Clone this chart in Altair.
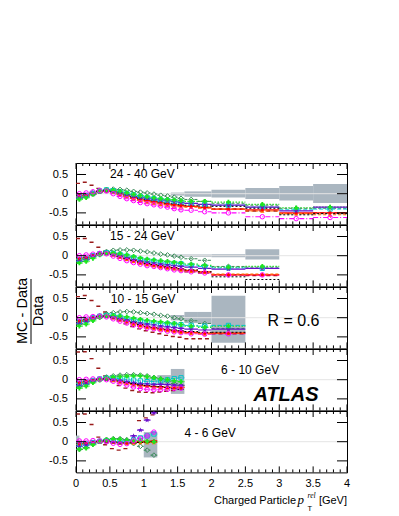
import altair as alt
import pandas as pd

# ---------------- data ----------------
BIN_LO = [0.0, 0.1, 0.2, 0.3, 0.4, 0.5, 0.6, 0.7, 0.8, 0.9,
          1.0, 1.1, 1.2, 1.3, 1.4, 1.5, 1.6, 1.8, 2.0, 2.5, 3.0, 3.5]
BIN_HI = [0.1, 0.2, 0.3, 0.4, 0.5, 0.6, 0.7, 0.8, 0.9, 1.0,
          1.1, 1.2, 1.3, 1.4, 1.5, 1.6, 1.8, 2.0, 2.5, 3.0, 3.5, 4.0]

PANEL_LABELS = ["24 - 40 GeV", "15 - 24 GeV", "10 - 15 GeV", "6 - 10 GeV", "4 - 6 GeV"]
SERIES = ["brown", "green", "darkgreen", "cyan", "purple", "magenta", "red", "orange", "black"]

# panel 1 : 24 - 40 GeV
P1_BROWN = [0.27, 0.30, 0.22, 0.14, 0.10, 0.05, -0.02, -0.08, -0.12, -0.16, -0.18, -0.21, -0.24, -0.26, -0.29, -0.31, -0.33, -0.36, -0.40, -0.45, -0.52, -0.50]
P1_GREEN = [-0.15, -0.10, -0.02, 0.06, 0.10, 0.09, 0.06, 0.02, -0.02, -0.05, -0.08, -0.11, -0.13, -0.15, -0.16, -0.18, -0.20, -0.20, -0.22, -0.28, -0.37, -0.35]
P1_DARKGREEN = [-0.12, -0.06, 0.02, 0.08, 0.11, 0.12, 0.11, 0.09, 0.06, 0.04, 0.02, -0.01, -0.04, -0.06, -0.09, -0.12, -0.15, -0.20, -0.25, -0.30, -0.38, -0.38]
P1_CYAN = [-0.08, -0.05, 0.01, 0.07, 0.10, 0.08, 0.04, 0.00, -0.03, -0.07, -0.10, -0.13, -0.16, -0.18, -0.20, -0.22, -0.25, -0.28, -0.30, -0.35, -0.42, -0.40]
P1_PURPLE = [-0.10, -0.08, -0.02, 0.05, 0.08, 0.06, 0.02, -0.03, -0.07, -0.10, -0.12, -0.15, -0.17, -0.19, -0.21, -0.23, -0.25, -0.28, -0.30, -0.35, -0.45, -0.35]
P1_MAGENTA = [0.00, 0.02, 0.05, 0.08, 0.07, 0.00, -0.07, -0.13, -0.18, -0.23, -0.26, -0.29, -0.32, -0.35, -0.39, -0.42, -0.43, -0.47, -0.50, -0.60, -0.65, -0.62]
P1_RED = [-0.05, -0.04, 0.00, 0.05, 0.07, 0.05, 0.00, -0.05, -0.10, -0.14, -0.18, -0.21, -0.24, -0.27, -0.29, -0.31, -0.33, -0.36, -0.40, -0.42, -0.50, -0.50]
P1_ORANGE = [-0.06, -0.05, 0.00, 0.06, 0.08, 0.05, -0.01, -0.07, -0.12, -0.17, -0.21, -0.24, -0.27, -0.29, -0.32, -0.34, -0.35, -0.37, -0.40, -0.45, -0.52, -0.55]
P1_BLACK = [-0.05, -0.03, 0.02, 0.06, 0.08, 0.06, 0.02, -0.03, -0.08, -0.12, -0.15, -0.18, -0.21, -0.24, -0.26, -0.28, -0.30, -0.32, -0.33, -0.38, -0.55, -0.52]
P1_BAND_LO = [1.4, 1.6, 2.0, 2.5, 3.0, 3.5]
P1_BAND_HI = [1.6, 2.0, 2.5, 3.0, 3.5, 4.0]
P1_BAND_DN = [-0.05, -0.08, -0.10, -0.14, -0.18, -0.24]
P1_BAND_UP = [0.03, 0.06, 0.10, 0.15, 0.20, 0.25]

# panel 2 : 15 - 24 GeV
P2_BROWN = [0.45, 0.45, 0.35, 0.22, 0.12, 0.05, -0.02, -0.08, -0.13, -0.18, -0.22, -0.25, -0.28, -0.31, -0.34, -0.37, -0.42, -0.45, -0.50, -0.52]
P2_GREEN = [-0.19, -0.15, -0.07, 0.02, 0.07, 0.07, 0.05, 0.02, -0.02, -0.06, -0.09, -0.11, -0.13, -0.15, -0.17, -0.19, -0.22, -0.25, -0.30, -0.28]
P2_DARKGREEN = [-0.15, -0.10, -0.02, 0.06, 0.11, 0.14, 0.15, 0.15, 0.14, 0.12, 0.10, 0.07, 0.04, 0.02, -0.01, -0.04, -0.08, -0.12, -0.28, -0.30]
P2_CYAN = [-0.10, -0.07, 0.00, 0.05, 0.08, 0.06, 0.03, -0.01, -0.05, -0.09, -0.12, -0.14, -0.17, -0.19, -0.20, -0.21, -0.25, -0.28, -0.32, -0.33]
P2_PURPLE = [-0.14, -0.10, -0.03, 0.04, 0.07, 0.04, 0.00, -0.05, -0.10, -0.14, -0.17, -0.19, -0.22, -0.24, -0.26, -0.28, -0.30, -0.33, -0.35, -0.33]
P2_MAGENTA = [0.00, 0.02, 0.04, 0.06, 0.05, -0.01, -0.07, -0.13, -0.18, -0.22, -0.26, -0.28, -0.31, -0.34, -0.37, -0.39, -0.42, -0.45, -0.50, -0.50]
P2_RED = [-0.07, -0.05, 0.00, 0.05, 0.07, 0.04, -0.01, -0.07, -0.12, -0.17, -0.21, -0.24, -0.27, -0.30, -0.32, -0.35, -0.38, -0.42, -0.50, -0.50]
P2_ORANGE = [-0.08, -0.06, 0.00, 0.05, 0.06, 0.03, -0.03, -0.09, -0.14, -0.19, -0.23, -0.26, -0.29, -0.32, -0.34, -0.37, -0.40, -0.43, -0.48, -0.48]
P2_BLACK = [-0.06, -0.04, 0.01, 0.05, 0.06, 0.03, -0.02, -0.07, -0.12, -0.16, -0.20, -0.23, -0.26, -0.29, -0.31, -0.34, -0.37, -0.42, -0.55, -0.62]
P2_BAND_LO = [1.4, 2.0, 2.5]
P2_BAND_HI = [2.0, 2.5, 3.0]
P2_BAND_DN = [-0.03, -0.04, -0.10]
P2_BAND_UP = [0.03, 0.04, 0.17]

# panel 3 : 10 - 15 GeV
P3_BROWN = [0.55, 0.58, 0.45, 0.30, 0.15, 0.03, -0.08, -0.16, -0.23, -0.29, -0.34, -0.38, -0.42, -0.46, -0.49, -0.51, -0.55, -0.55, -0.42]
P3_GREEN = [-0.22, -0.17, -0.08, 0.00, 0.05, 0.06, 0.04, 0.02, -0.01, -0.04, -0.07, -0.09, -0.11, -0.13, -0.15, -0.18, -0.22, -0.25, -0.22]
P3_DARKGREEN = [-0.17, -0.10, -0.02, 0.05, 0.10, 0.13, 0.15, 0.16, 0.15, 0.13, 0.11, 0.09, 0.06, 0.04, 0.00, -0.03, -0.08, -0.15, -0.28]
P3_CYAN = [-0.10, -0.07, 0.00, 0.04, 0.06, 0.05, 0.02, -0.02, -0.05, -0.08, -0.11, -0.13, -0.15, -0.16, -0.17, -0.18, -0.20, -0.22, -0.20]
P3_PURPLE = [-0.15, -0.10, -0.04, 0.02, 0.04, 0.02, -0.02, -0.06, -0.10, -0.14, -0.17, -0.19, -0.22, -0.24, -0.26, -0.28, -0.30, -0.32, -0.30]
P3_MAGENTA = [0.00, 0.02, 0.03, 0.04, 0.02, -0.03, -0.09, -0.14, -0.19, -0.23, -0.27, -0.29, -0.32, -0.35, -0.37, -0.39, -0.42, -0.43, -0.42]
P3_RED = [-0.08, -0.05, -0.01, 0.03, 0.04, 0.01, -0.04, -0.09, -0.14, -0.19, -0.23, -0.26, -0.29, -0.31, -0.34, -0.36, -0.38, -0.40, -0.40]
P3_ORANGE = [-0.09, -0.06, -0.01, 0.03, 0.04, 0.00, -0.05, -0.10, -0.16, -0.21, -0.25, -0.28, -0.31, -0.33, -0.36, -0.38, -0.40, -0.42, -0.40]
P3_BLACK = [-0.07, -0.05, 0.00, 0.03, 0.04, 0.01, -0.03, -0.08, -0.13, -0.18, -0.22, -0.25, -0.27, -0.30, -0.32, -0.34, -0.36, -0.38, -0.38]
P3_BAND_LO = [1.4, 1.6, 1.8, 2.0]
P3_BAND_HI = [1.6, 1.8, 2.0, 2.5]
P3_BAND_DN = [-0.07, -0.14, -0.16, -0.65]
P3_BAND_UP = [0.07, 0.15, 0.15, 0.57]

# panel 4 : 6 - 10 GeV
P4_BROWN = [0.72, 0.73, 0.55, 0.30, 0.10, -0.05, -0.15, -0.22, -0.28, -0.32, -0.33, -0.34, -0.32, -0.30, -0.28, -0.25]
P4_GREEN = [-0.22, -0.17, -0.08, -0.01, 0.04, 0.07, 0.08, 0.09, 0.10, 0.10, 0.08, 0.05, 0.02, 0.00, -0.03, -0.05]
P4_DARKGREEN = [-0.18, -0.12, -0.04, 0.02, 0.07, 0.10, 0.12, 0.13, 0.13, 0.12, 0.10, 0.06, 0.02, -0.04, -0.10, -0.15]
P4_CYAN = [-0.10, -0.07, -0.02, 0.02, 0.04, 0.04, 0.03, 0.01, -0.01, -0.03, -0.05, -0.05, -0.03, 0.00, 0.03, 0.05]
P4_PURPLE = [-0.15, -0.10, -0.05, 0.00, 0.02, 0.01, -0.02, -0.05, -0.08, -0.10, -0.11, -0.12, -0.12, -0.13, -0.14, -0.15]
P4_MAGENTA = [0.00, 0.01, 0.02, 0.02, 0.00, -0.04, -0.09, -0.14, -0.19, -0.23, -0.25, -0.26, -0.26, -0.25, -0.23, -0.22]
P4_RED = [-0.07, -0.05, -0.02, 0.01, 0.02, 0.00, -0.04, -0.08, -0.12, -0.15, -0.16, -0.18, -0.19, -0.20, -0.20, -0.20]
P4_ORANGE = [-0.08, -0.06, -0.02, 0.01, 0.02, -0.01, -0.05, -0.09, -0.13, -0.16, -0.17, -0.19, -0.20, -0.20, -0.21, -0.20]
P4_BLACK = [-0.06, -0.04, -0.01, 0.01, 0.02, 0.00, -0.03, -0.07, -0.10, -0.13, -0.15, -0.17, -0.18, -0.20, -0.23, -0.25]
P4_BAND_LO = [1.0, 1.2, 1.4]
P4_BAND_HI = [1.2, 1.4, 1.6]
P4_BAND_DN = [-0.06, -0.14, -0.37]
P4_BAND_UP = [0.06, 0.12, 0.28]

# panel 5 : 4 - 6 GeV
P5_BROWN = [0.72, 0.72, 0.45, 0.12, -0.08, -0.18, -0.22, -0.18, 0.02, 0.55, 0.62, 0.70]
P5_GREEN = [-0.20, -0.17, -0.08, 0.00, 0.05, 0.07, 0.06, 0.04, 0.03, 0.02, 0.01, 0.00]
P5_DARKGREEN = [-0.20, -0.15, -0.06, 0.02, 0.06, 0.08, 0.08, 0.05, -0.05, -0.12, -0.22, -0.35]
P5_CYAN = [-0.08, -0.06, -0.02, 0.01, 0.02, 0.01, -0.01, 0.00, 0.05, 0.10, 0.15, 0.20]
P5_PURPLE = [-0.12, -0.09, -0.04, 0.00, 0.02, 0.00, -0.02, 0.05, 0.15, 0.30, 0.56, 0.75]
P5_MAGENTA = [0.02, 0.02, 0.03, 0.02, 0.00, -0.04, -0.07, -0.05, 0.02, 0.08, 0.15, 0.25]
P5_RED = [-0.05, -0.04, -0.02, 0.00, 0.01, -0.01, -0.03, -0.03, -0.02, 0.00, 0.01, 0.02]
P5_ORANGE = [-0.06, -0.04, -0.02, 0.00, 0.01, -0.01, -0.03, -0.04, -0.03, -0.02, -0.02, -0.02]
P5_BLACK = [-0.04, -0.03, -0.01, 0.01, 0.02, 0.00, -0.02, -0.03, -0.03, -0.02, -0.01, 0.00]
P5_BAND_LO = [0.0, 1.0]
P5_BAND_HI = [0.05, 1.2]
P5_BAND_DN = [-0.03, -0.41]
P5_BAND_UP = [0.16, 0.25]

Y_TICKS = [-0.5, 0.0, 0.5]
Y_TICK_LABELS = ["-0.5", "0", "0.5"]
X_TICKS = [0, 0.5, 1, 1.5, 2, 2.5, 3, 3.5, 4]
X_TICK_LABELS = ["0", "0.5", "1", "1.5", "2", "2.5", "3", "3.5", "4"]
X_MINOR = [0.1, 0.2, 0.3, 0.4, 0.6, 0.7, 0.8, 0.9, 1.1, 1.2, 1.3, 1.4, 1.6, 1.7, 1.8, 1.9,
           2.1, 2.2, 2.3, 2.4, 2.6, 2.7, 2.8, 2.9, 3.1, 3.2, 3.3, 3.4, 3.6, 3.7, 3.8, 3.9]

PANEL_SERIES = [
    dict(zip(SERIES, [P1_BROWN, P1_GREEN, P1_DARKGREEN, P1_CYAN, P1_PURPLE, P1_MAGENTA, P1_RED, P1_ORANGE, P1_BLACK])),
    dict(zip(SERIES, [P2_BROWN, P2_GREEN, P2_DARKGREEN, P2_CYAN, P2_PURPLE, P2_MAGENTA, P2_RED, P2_ORANGE, P2_BLACK])),
    dict(zip(SERIES, [P3_BROWN, P3_GREEN, P3_DARKGREEN, P3_CYAN, P3_PURPLE, P3_MAGENTA, P3_RED, P3_ORANGE, P3_BLACK])),
    dict(zip(SERIES, [P4_BROWN, P4_GREEN, P4_DARKGREEN, P4_CYAN, P4_PURPLE, P4_MAGENTA, P4_RED, P4_ORANGE, P4_BLACK])),
    dict(zip(SERIES, [P5_BROWN, P5_GREEN, P5_DARKGREEN, P5_CYAN, P5_PURPLE, P5_MAGENTA, P5_RED, P5_ORANGE, P5_BLACK])),
]
PANEL_BANDS = [
    (P1_BAND_LO, P1_BAND_HI, P1_BAND_DN, P1_BAND_UP),
    (P2_BAND_LO, P2_BAND_HI, P2_BAND_DN, P2_BAND_UP),
    (P3_BAND_LO, P3_BAND_HI, P3_BAND_DN, P3_BAND_UP),
    (P4_BAND_LO, P4_BAND_HI, P4_BAND_DN, P4_BAND_UP),
    (P5_BAND_LO, P5_BAND_HI, P5_BAND_DN, P5_BAND_UP),
]

# ---------------- style ----------------
FONT = "Liberation Sans"
W = 271
H = 61.4
BAND_COLOR = "#AAB6C0"
STAR = "M0,-1L0.24,-0.33L0.95,-0.31L0.38,0.12L0.59,0.81L0,0.4L-0.59,0.81L-0.38,0.12L-0.95,-0.31L-0.24,-0.33Z"

LINE_STYLE = {
    "brown": ("#9A1B1B", [4, 3], 1.4),
    "green": ("#1EE61E", [1.5, 1.5], 1.2),
    "darkgreen": ("#3C8C5A", [3, 2], 1.0),
    "cyan": ("#00C4CC", [4, 2], 1.0),
    "purple": ("#6A0DCC", None, 1.2),
    "magenta": ("#FF00FF", [5, 2, 1, 2], 1.1),
    "red": ("#FF0000", None, 1.3),
    "orange": ("#FF6A00", [3, 2], 1.1),
    "black": ("#000000", [2, 2], 1.0),
}
MARK_ORDER = ["darkgreen", "cyan", "orange", "red", "purple", "green", "magenta"]
MARK_STYLE = {
    "green": ("cross", True, 22),
    "darkgreen": ("diamond", False, 22),
    "cyan": ("square", False, 18),
    "purple": (STAR, True, 30),
    "magenta": ("circle", False, 20),
    "red": ("circle", True, 10),
    "orange": ("triangle-up", True, 18),
}

XS = alt.Scale(domain=[0, 4], nice=False, zero=False)
YS = alt.Scale(domain=[-0.8, 0.8], nice=False, zero=False)
DUMMY = pd.DataFrame({"zero": [0.0]})

# annotation text: (text, x in data units, y in data units, size, weight, style)
ANNOT = [
    [(PANEL_LABELS[0], 0.98, 0.52, 12, "normal", "normal")],
    [(PANEL_LABELS[1], 0.98, 0.52, 12, "normal", "normal")],
    [(PANEL_LABELS[2], 0.99, 0.50, 12, "normal", "normal"),
     ("R = 0.6", 3.21, -0.08, 16, "normal", "normal")],
    [(PANEL_LABELS[3], 2.57, 0.26, 12, "normal", "normal"),
     ("ATLAS", 3.10, -0.41, 20, "bold", "italic")],
    [(PANEL_LABELS[4], 1.98, 0.23, 12, "normal", "normal")],
]


def px_text(txt, x, y, size, font=FONT, style="normal", weight="normal", align="left",
            baseline="alphabetic", angle=0):
    return alt.Chart(DUMMY).mark_text(
        text=txt, font=font, fontSize=size, fontStyle=style, fontWeight=weight,
        align=align, baseline=baseline, angle=angle, color="black").encode(
        x=alt.value(x), y=alt.value(y))


def make_panel(i):
    bottom = i == 4
    lo, hi, dn, up = PANEL_BANDS[i]
    bdf = pd.DataFrame({"lo": lo, "hi": hi, "dn": dn, "up": up})
    layers = [
        alt.Chart(bdf).mark_rect(color=BAND_COLOR, opacity=1).encode(
            x=alt.X("lo:Q", scale=XS, axis=None), x2="hi:Q",
            y=alt.Y("dn:Q", scale=YS, axis=None), y2="up:Q"),
        alt.Chart(DUMMY).mark_rule(color="#e4e4e4", strokeWidth=1).encode(
            y=alt.Y("zero:Q", scale=YS, axis=None)),
    ]
    frames = {}
    for s in SERIES:
        v = PANEL_SERIES[i][s]
        rows = [{"lo": a, "hi": b, "c": (a + b) / 2, "v": y} for a, b, y in zip(BIN_LO, BIN_HI, v)]
        frames[s] = pd.DataFrame(rows)
    for s in SERIES:
        color, dash, width = LINE_STYLE[s]
        kw = dict(color=color, strokeWidth=width, clip=True)
        if dash:
            kw["strokeDash"] = dash
        layers.append(alt.Chart(frames[s]).mark_rule(**kw).encode(
            x=alt.X("lo:Q", scale=XS, axis=None), x2="hi:Q",
            y=alt.Y("v:Q", scale=YS, axis=None)))
    for s in MARK_ORDER:
        shape, filled, size = MARK_STYLE[s]
        color = LINE_STYLE[s][0]
        layers.append(alt.Chart(frames[s]).mark_point(
            shape=shape, filled=filled, size=size, color=color, strokeWidth=1,
            opacity=1, clip=True).encode(
            x=alt.X("c:Q", scale=XS, axis=None),
            y=alt.Y("v:Q", scale=YS, axis=None)))
    for txt, ax, ay, fs, fw, fst in ANNOT[i]:
        adf = pd.DataFrame({"ax": [ax], "ay": [ay]})
        layers.append(alt.Chart(adf).mark_text(
            text=txt, font=FONT, fontSize=fs, fontWeight=fw, fontStyle=fst,
            align="center", baseline="middle", color="black").encode(
            x=alt.X("ax:Q", scale=XS, axis=None), y=alt.Y("ay:Q", scale=YS, axis=None)))
    # inward ticks (ROOT style) and tick labels
    yt = pd.DataFrame({"t": Y_TICKS, "lab": Y_TICK_LABELS})
    xM = pd.DataFrame({"t": X_TICKS, "lab": X_TICK_LABELS})
    xm = pd.DataFrame({"t": X_MINOR})
    layers += [
        alt.Chart(yt).mark_rule(color="black").encode(
            y=alt.Y("t:Q", scale=YS, axis=None), x=alt.value(0), x2=alt.value(10)),
        alt.Chart(yt).mark_rule(color="black").encode(
            y=alt.Y("t:Q", scale=YS, axis=None), x=alt.value(W - 10), x2=alt.value(W)),
        alt.Chart(yt).mark_text(font=FONT, fontSize=11, align="right", baseline="middle",
                                color="black").encode(
            y=alt.Y("t:Q", scale=YS, axis=None), x=alt.value(-8), text="lab:N"),
        alt.Chart(xM).mark_rule(color="black").encode(
            x=alt.X("t:Q", scale=XS, axis=None), y=alt.value(0), y2=alt.value(6)),
        alt.Chart(xM).mark_rule(color="black").encode(
            x=alt.X("t:Q", scale=XS, axis=None), y=alt.value(H - 6), y2=alt.value(H)),
        alt.Chart(xm).mark_rule(color="black").encode(
            x=alt.X("t:Q", scale=XS, axis=None), y=alt.value(0), y2=alt.value(3)),
        alt.Chart(xm).mark_rule(color="black").encode(
            x=alt.X("t:Q", scale=XS, axis=None), y=alt.value(H - 3), y2=alt.value(H)),
    ]
    if i == 2:
        layers += [
            px_text("MC - Data", -53, 24, 14.5, align="center", baseline="middle", angle=270),
            alt.Chart(DUMMY).mark_rule(color="black", strokeWidth=1).encode(
                x=alt.value(-45), y=alt.value(-8), y2=alt.value(57)),
            px_text("Data", -37, 24, 14.5, align="center", baseline="middle", angle=270),
        ]
    if bottom:
        layers += [
            alt.Chart(xM).mark_text(font=FONT, fontSize=11, align="center", baseline="top",
                                    color="black").encode(
                x=alt.X("t:Q", scale=XS, axis=None), y=alt.value(H + 6), text="lab:N"),
            px_text("Charged Particle", 220, 92.5, 11, align="right"),
            px_text("p", 221.5, 92.5, 13, font="Liberation Serif", style="italic"),
            px_text("rel", 231.5, 87, 7.5, font="Liberation Serif", style="italic"),
            px_text("T", 231.5, 100, 7.5),
            px_text("[GeV]", W, 92.5, 11, align="right"),
        ]
    return alt.layer(*layers).properties(width=W, height=H)


chart = alt.vconcat(*[make_panel(i) for i in range(5)], spacing=0, bounds="flush").properties(
    padding={"left": 6, "top": 154, "right": 5, "bottom": 5},
    background="white",
).configure_view(stroke="black", strokeWidth=1)

chart.save("out.html", embed_options={"renderer": "svg", "actions": False})
